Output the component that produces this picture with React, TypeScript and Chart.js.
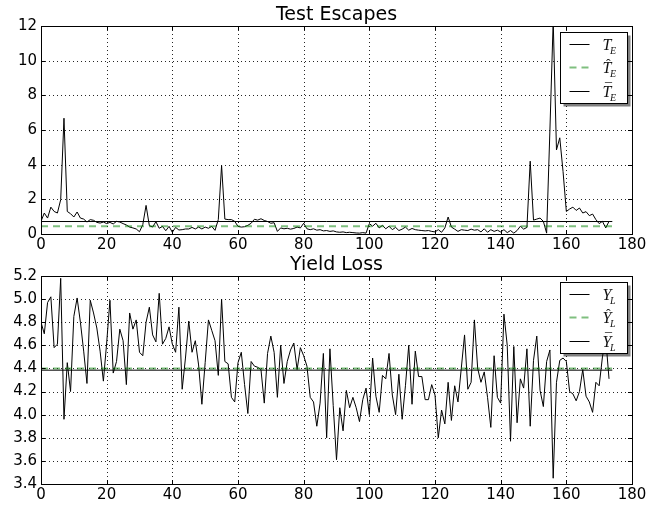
import React, { useEffect, useRef } from "react";
import { Chart, registerables } from "chart.js";

Chart.register(...registerables);

// ---------- data ----------
const sampleIndex = Array.from({ length: 174 }, (_, i) => i);

const testEscapes = [
  0.73, 1.21, 0.92, 1.55, 1.30, 1.21, 1.98, 6.68, 1.30, 1.17,
  0.98, 1.27, 0.92, 0.86, 0.69, 0.83, 0.79, 0.67, 0.63, 0.69,
  0.60, 0.67, 0.58, 0.73, 0.69, 0.60, 0.52, 0.40, 0.35, 0.29,
  0.13, 0.54, 1.65, 0.48, 0.40, 0.71, 0.33, 0.44, 0.19, 0.44,
  0.10, 0.38, 0.23, 0.25, 0.29, 0.29, 0.38, 0.29, 0.40, 0.29,
  0.40, 0.33, 0.44, 0.21, 0.83, 3.95, 0.86, 0.83, 0.83, 0.73,
  0.44, 0.40, 0.42, 0.50, 0.62, 0.85, 0.80, 0.88, 0.78, 0.72,
  0.62, 0.65, 0.15, 0.35, 0.30, 0.33, 0.28, 0.32, 0.40, 0.35,
  0.62, 0.30, 0.25, 0.30, 0.22, 0.25, 0.18, 0.20, 0.15, 0.18,
  0.12, 0.10, 0.12, 0.08, 0.10, 0.08, 0.06, 0.05, 0.08, 0.05,
  0.60, 0.45, 0.62, 0.35, 0.50, 0.30, 0.45, 0.25, 0.38, 0.20,
  0.28, 0.40, 0.22, 0.32, 0.25, 0.22, 0.20, 0.18, 0.20, 0.15,
  0.12, 0.25, 0.10, 0.35, 0.98, 0.40, 0.28, 0.15, 0.25, 0.22,
  0.20, 0.28, 0.22, 0.25, 0.12, 0.30, 0.10, 0.25, 0.15, 0.22,
  0.12, 0.25, 0.08, 0.20, 0.05, 0.20, 0.45, 0.28, 0.38, 4.20,
  0.80, 0.86, 0.92, 0.73, 0.05, 6.00, 12.3, 4.85, 5.55, 3.60,
  1.30, 1.44, 1.55, 1.36, 1.50, 1.21, 1.29, 1.06, 1.15, 0.83,
  0.60, 0.73, 0.35, 0.73,
];
const testEscapesPredicted = 0.44;
const testEscapesMean = 0.72;

const yieldLoss = [
  4.80, 4.70, 4.97, 5.02, 4.58, 4.61, 5.18, 3.96, 4.45, 4.20,
  4.85, 5.01, 4.80, 4.55, 4.27, 4.99, 4.88, 4.75, 4.55, 4.29,
  4.62, 4.99, 4.36, 4.46, 4.74, 4.64, 4.26, 4.88, 4.74, 4.82,
  4.54, 4.51, 4.80, 4.93, 4.69, 4.63, 5.05, 4.61, 4.66, 4.76,
  4.61, 4.54, 4.93, 4.22, 4.49, 4.81, 4.54, 4.64, 4.43, 4.09,
  4.45, 4.82, 4.73, 4.64, 4.34, 5.00, 4.46, 4.44, 4.15, 4.11,
  4.45, 4.54, 4.26, 4.01, 4.46, 4.42, 4.41, 4.39, 4.10, 4.53,
  4.68, 4.54, 4.15, 4.60, 4.27, 4.46, 4.56, 4.62, 4.39, 4.58,
  4.51, 4.42, 4.15, 4.11, 3.90, 4.10, 4.53, 3.80, 4.57, 4.08,
  3.61, 4.06, 3.86, 4.21, 4.06, 4.15, 4.06, 3.94, 4.13, 4.23,
  4.00, 4.49, 4.16, 4.02, 4.34, 4.31, 4.53, 4.17, 4.00, 4.35,
  3.96, 4.25, 4.60, 4.09, 4.55, 4.33, 4.33, 4.13, 4.13, 4.26,
  4.17, 3.80, 4.04, 3.92, 4.28, 3.95, 4.25, 4.11, 4.40, 4.69,
  4.22, 4.28, 4.82, 4.40, 4.28, 4.37, 4.15, 3.89, 4.51, 4.15,
  4.10, 4.87, 4.60, 3.77, 4.59, 3.93, 4.31, 4.23, 4.57, 3.90,
  4.47, 4.68, 4.21, 4.07, 4.46, 4.56, 3.45, 4.28, 4.47, 4.49,
  4.46, 4.20, 4.18, 4.12, 4.20, 4.39, 4.16, 4.11, 4.02, 4.28,
  4.25, 4.50, 4.66, 4.31,
];
const yieldLossPredicted = 4.40;
const yieldLossMean = 4.385;

const meanSpan = [0, 174];
const xTicks = [0, 20, 40, 60, 80, 100, 120, 140, 160, 180];
const topYTicks = [0, 2, 4, 6, 8, 10, 12];
const bottomYTicks = [3.4, 3.6, 3.8, 4.0, 4.2, 4.4, 4.6, 4.8, 5.0, 5.2];

// ---------- styles ----------
const GREEN = "rgba(0,128,0,0.5)";
const DASH = [7, 5];
const TICK_FONT = { family: "DejaVu Sans", size: 15 };

type LegendEntry = { base: string; accent: "" | "hat" | "bar"; sub: string; kind: "data" | "pred" | "mean" };

function drawLegendLabel(ctx: CanvasRenderingContext2D, x: number, baseline: number, e: LegendEntry) {
  ctx.fillStyle = "#111";
  ctx.textAlign = "left";
  ctx.textBaseline = "alphabetic";
  ctx.font = 'italic 16px "Liberation Serif"';
  ctx.fillText(e.base, x, baseline);
  const w = ctx.measureText(e.base).width;
  if (e.accent) {
    ctx.font = '14px "Liberation Serif"';
    ctx.textAlign = "center";
    ctx.fillText(e.accent === "hat" ? "\u02C6" : "\u00AF", x + w * 0.55 + 1, baseline - 4);
    ctx.textAlign = "left";
  }
  ctx.font = 'italic 10px "Liberation Serif"';
  ctx.fillText(e.sub, x + w - 1.5, baseline + 4);
}

function makePlugins(title: string, legend: LegendEntry[]) {
  return [
    {
      id: "mplFrame",
      beforeDatasetsDraw(chart: any) {
        const { ctx, chartArea: a, scales } = chart;
        ctx.save();
        ctx.strokeStyle = "rgba(0,0,0,0.85)";
        ctx.lineWidth = 1;
        ctx.setLineDash([1, 3]);
        for (const t of scales.x.ticks) {
          const px = Math.round(scales.x.getPixelForValue(t.value)) + 0.5;
          if (px <= a.left + 1 || px >= a.right - 1) continue;
          ctx.beginPath();
          ctx.moveTo(px, a.top);
          ctx.lineTo(px, a.bottom);
          ctx.stroke();
        }
        for (const t of scales.y.ticks) {
          const py = Math.round(scales.y.getPixelForValue(t.value)) + 0.5;
          if (py <= a.top + 1 || py >= a.bottom - 1) continue;
          ctx.beginPath();
          ctx.moveTo(a.left, py);
          ctx.lineTo(a.right, py);
          ctx.stroke();
        }
        ctx.restore();
      },
      afterDatasetsDraw(chart: any) {
        const { ctx, chartArea: a, scales } = chart;
        ctx.save();
        ctx.setLineDash([]);
        ctx.strokeStyle = "#000";
        ctx.lineWidth = 1;
        // inward ticks
        for (const t of scales.x.ticks) {
          const px = Math.round(scales.x.getPixelForValue(t.value)) + 0.5;
          ctx.beginPath();
          ctx.moveTo(px, a.bottom);
          ctx.lineTo(px, a.bottom - 4);
          ctx.moveTo(px, a.top);
          ctx.lineTo(px, a.top + 4);
          ctx.stroke();
        }
        for (const t of scales.y.ticks) {
          const py = Math.round(scales.y.getPixelForValue(t.value)) + 0.5;
          ctx.beginPath();
          ctx.moveTo(a.left, py);
          ctx.lineTo(a.left + 4, py);
          ctx.moveTo(a.right, py);
          ctx.lineTo(a.right - 4, py);
          ctx.stroke();
        }
        // frame
        ctx.strokeRect(Math.round(a.left) + 0.5, Math.round(a.top) + 0.5, Math.round(a.right - a.left), Math.round(a.bottom - a.top));

        // title
        ctx.fillStyle = "#000";
        ctx.font = '19px "DejaVu Sans"';
        ctx.textAlign = "center";
        ctx.textBaseline = "alphabetic";
        ctx.fillText(title, (a.left + a.right) / 2, a.top - 6);

        // legend
        const bw = 67;
        const bh = 71;
        const bx = Math.round(a.right - 5 - bw) + 0.5;
        const by = Math.round(a.top + 6) + 0.5;
        ctx.fillStyle = "rgba(0,0,0,0.5)";
        ctx.fillRect(bx + 3, by + 3, bw, bh);
        ctx.fillStyle = "#fff";
        ctx.fillRect(bx, by, bw, bh);
        ctx.strokeStyle = "#000";
        ctx.lineWidth = 1;
        ctx.strokeRect(bx, by, bw, bh);
        legend.forEach((e, k) => {
          const ry = Math.round(by + 11 + k * 23.5) + 0.5;
          ctx.save();
          if (e.kind === "pred") {
            ctx.strokeStyle = GREEN;
            ctx.lineWidth = 2;
            ctx.setLineDash(DASH);
          } else {
            ctx.strokeStyle = "#000";
            ctx.lineWidth = 1;
            ctx.setLineDash([]);
          }
          ctx.beginPath();
          ctx.moveTo(bx + 9, ry);
          ctx.lineTo(bx + 29, ry);
          ctx.stroke();
          ctx.restore();
          drawLegendLabel(ctx, bx + 42, ry + 5.5, e);
        });
        ctx.restore();
      },
    },
  ];
}

function makeConfig(p: {
  title: string;
  values: number[];
  predicted: number;
  mean: number;
  yMin: number;
  yMax: number;
  yTicks: number[];
  decimals: number;
  padTop: number;
  xAxisHeight: number;
  legend: LegendEntry[];
}): any {
  const dataPts = p.values.map((v, i) => ({ x: sampleIndex[i], y: v }));
  const predPts = meanSpan.map((x) => ({ x, y: p.predicted }));
  const meanPts = meanSpan.map((x) => ({ x, y: p.mean }));
  return {
    type: "line",
    data: {
      datasets: [
        { label: "mean", data: meanPts, borderColor: "#000", borderWidth: 1, pointRadius: 0, tension: 0, fill: false },
        { label: "pred", data: predPts, borderColor: GREEN, borderWidth: 2, borderDash: DASH, pointRadius: 0, tension: 0, fill: false },
        { label: "data", data: dataPts, borderColor: "#000", borderWidth: 1, pointRadius: 0, tension: 0, fill: false },
      ],
    },
    options: {
      animation: false,
      responsive: false,
      devicePixelRatio: 1,
      events: [],
      layout: { padding: { top: p.padTop, right: 28, left: 0, bottom: 0 } },
      plugins: { legend: { display: false }, tooltip: { enabled: false }, title: { display: false } },
      scales: {
        x: {
          type: "linear",
          min: 0,
          max: 180,
          afterBuildTicks: (s: any) => {
            s.ticks = xTicks.map((v) => ({ value: v }));
          },
          afterFit: (s: any) => {
            s.height = p.xAxisHeight;
          },
          grid: { display: false, drawTicks: false },
          border: { display: false },
          ticks: {
            padding: 2,
            color: "#000",
            font: TICK_FONT,
            maxRotation: 0,
            autoSkip: false,
            callback: (v: any) => String(v),
          },
        },
        y: {
          type: "linear",
          min: p.yMin,
          max: p.yMax,
          afterBuildTicks: (s: any) => {
            s.ticks = p.yTicks.map((v) => ({ value: v }));
          },
          afterFit: (s: any) => {
            s.width = 41;
          },
          grid: { display: false, drawTicks: false },
          border: { display: false },
          ticks: {
            padding: 4,
            color: "#000",
            font: TICK_FONT,
            autoSkip: false,
            callback: (v: any) => Number(v).toFixed(p.decimals),
          },
        },
      },
    },
    plugins: makePlugins(p.title, p.legend),
  };
}

export default function App() {
  const topRef = useRef<HTMLCanvasElement>(null);
  const botRef = useRef<HTMLCanvasElement>(null);

  useEffect(() => {
    const c1 = new Chart(
      topRef.current as HTMLCanvasElement,
      makeConfig({
        title: "Test Escapes",
        values: testEscapes,
        predicted: testEscapesPredicted,
        mean: testEscapesMean,
        yMin: 0,
        yMax: 12,
        yTicks: topYTicks,
        decimals: 0,
        padTop: 26,
        xAxisHeight: 20,
        legend: [
          { base: "T", accent: "", sub: "E", kind: "data" },
          { base: "T", accent: "hat", sub: "E", kind: "pred" },
          { base: "T", accent: "bar", sub: "E", kind: "mean" },
        ],
      })
    );
    const c2 = new Chart(
      botRef.current as HTMLCanvasElement,
      makeConfig({
        title: "Yield Loss",
        values: yieldLoss,
        predicted: yieldLossPredicted,
        mean: yieldLossMean,
        yMin: 3.4,
        yMax: 5.2,
        yTicks: bottomYTicks,
        decimals: 1,
        padTop: 22,
        xAxisHeight: 24,
        legend: [
          { base: "Y", accent: "", sub: "L", kind: "data" },
          { base: "Y", accent: "hat", sub: "L", kind: "pred" },
          { base: "Y", accent: "bar", sub: "L", kind: "mean" },
        ],
      })
    );
    return () => {
      c1.destroy();
      c2.destroy();
    };
  }, []);

  return (
    <div style={{ position: "fixed", left: 0, top: 0, width: 660, height: 508, background: "#fff" }}>
      <canvas ref={topRef} width={660} height={254} style={{ position: "absolute", left: 0, top: 0 }} />
      <canvas ref={botRef} width={660} height={254} style={{ position: "absolute", left: 0, top: 254 }} />
    </div>
  );
}
